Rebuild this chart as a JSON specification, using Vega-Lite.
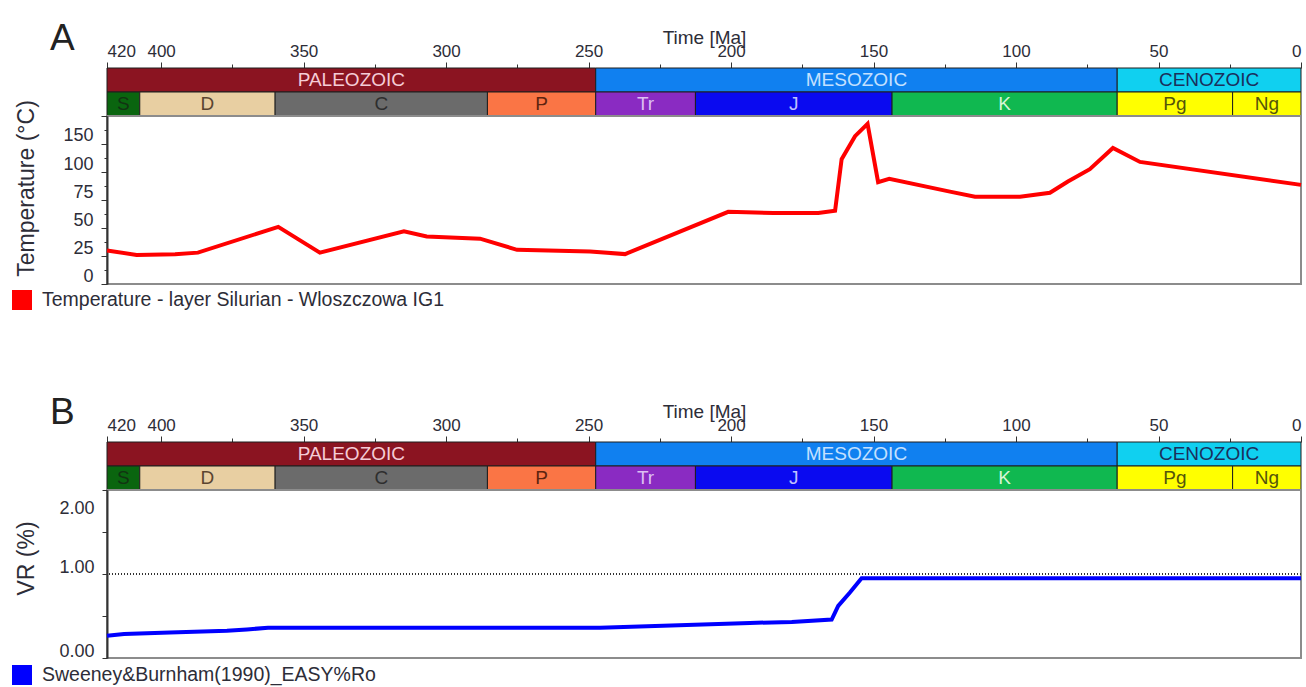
{
  "$schema": "https://vega.github.io/schema/vega-lite/v6.json",
  "background": "white",
  "padding": {"left": 11, "top": 20, "right": 5, "bottom": 0},
  "spacing": 374,
  "bounds": "flush",
  "resolve": {"scale": {"fill": "independent", "color": "independent", "x": "independent", "y": "independent"}, "legend": {"color": "independent"}},
  "config": {
    "font": "Liberation Sans",
    "view": {"stroke": null},
    "axis": {
      "labelFont": "Liberation Sans",
      "titleFont": "Liberation Sans",
      "labelColor": "#2d2d38",
      "titleColor": "#2d2d38",
      "tickColor": "#333333",
      "domainColor": "#444444",
      "grid": false,
      "titleFontWeight": "normal"
    },
    "legend": {
      "labelFont": "Liberation Sans",
      "labelColor": "#2d2d38"
    },
    "title": {"font": "Liberation Sans", "fontWeight": "normal", "color": "#222222"}
  },
  "datasets": {
    "eras": [
      {"name": "PALEOZOIC", "start": 419, "end": 247.5},
      {"name": "MESOZOIC", "start": 247.5, "end": 64.5},
      {"name": "CENOZOIC", "start": 64.5, "end": 0}
    ],
    "periods": [
      {"name": "S", "start": 419, "end": 407.5},
      {"name": "D", "start": 407.5, "end": 360},
      {"name": "C", "start": 360, "end": 285.5},
      {"name": "P", "start": 285.5, "end": 247.5},
      {"name": "Tr", "start": 247.5, "end": 212.5},
      {"name": "J", "start": 212.5, "end": 143.5},
      {"name": "K", "start": 143.5, "end": 64.5},
      {"name": "Pg", "start": 64.5, "end": 24},
      {"name": "Ng", "start": 24, "end": 0}
    ],
    "temperature": [
      {"series": "Temperature - layer Silurian - Wloszczowa IG1", "age": 419, "temp": 30},
      {"series": "Temperature - layer Silurian - Wloszczowa IG1", "age": 408.6, "temp": 26},
      {"series": "Temperature - layer Silurian - Wloszczowa IG1", "age": 395.1, "temp": 26.5},
      {"series": "Temperature - layer Silurian - Wloszczowa IG1", "age": 387.1, "temp": 28},
      {"series": "Temperature - layer Silurian - Wloszczowa IG1", "age": 358.9, "temp": 51},
      {"series": "Temperature - layer Silurian - Wloszczowa IG1", "age": 344.3, "temp": 28},
      {"series": "Temperature - layer Silurian - Wloszczowa IG1", "age": 314.8, "temp": 47},
      {"series": "Temperature - layer Silurian - Wloszczowa IG1", "age": 306.8, "temp": 42.5},
      {"series": "Temperature - layer Silurian - Wloszczowa IG1", "age": 288.1, "temp": 40.5},
      {"series": "Temperature - layer Silurian - Wloszczowa IG1", "age": 275.1, "temp": 30.5},
      {"series": "Temperature - layer Silurian - Wloszczowa IG1", "age": 249.5, "temp": 29},
      {"series": "Temperature - layer Silurian - Wloszczowa IG1", "age": 237.2, "temp": 26.7},
      {"series": "Temperature - layer Silurian - Wloszczowa IG1", "age": 201, "temp": 64.4},
      {"series": "Temperature - layer Silurian - Wloszczowa IG1", "age": 185.2, "temp": 63.5},
      {"series": "Temperature - layer Silurian - Wloszczowa IG1", "age": 169.4, "temp": 63.5},
      {"series": "Temperature - layer Silurian - Wloszczowa IG1", "age": 163.5, "temp": 65.5},
      {"series": "Temperature - layer Silurian - Wloszczowa IG1", "age": 161.2, "temp": 111.5},
      {"series": "Temperature - layer Silurian - Wloszczowa IG1", "age": 156.5, "temp": 132},
      {"series": "Temperature - layer Silurian - Wloszczowa IG1", "age": 152.1, "temp": 143},
      {"series": "Temperature - layer Silurian - Wloszczowa IG1", "age": 148.4, "temp": 91},
      {"series": "Temperature - layer Silurian - Wloszczowa IG1", "age": 144.5, "temp": 94},
      {"series": "Temperature - layer Silurian - Wloszczowa IG1", "age": 123.2, "temp": 82.5},
      {"series": "Temperature - layer Silurian - Wloszczowa IG1", "age": 114.4, "temp": 78},
      {"series": "Temperature - layer Silurian - Wloszczowa IG1", "age": 98.6, "temp": 78},
      {"series": "Temperature - layer Silurian - Wloszczowa IG1", "age": 88.1, "temp": 81.5},
      {"series": "Temperature - layer Silurian - Wloszczowa IG1", "age": 81.8, "temp": 91.5},
      {"series": "Temperature - layer Silurian - Wloszczowa IG1", "age": 74.1, "temp": 102.5},
      {"series": "Temperature - layer Silurian - Wloszczowa IG1", "age": 66, "temp": 121.5},
      {"series": "Temperature - layer Silurian - Wloszczowa IG1", "age": 56.5, "temp": 109},
      {"series": "Temperature - layer Silurian - Wloszczowa IG1", "age": 0, "temp": 88.5}
    ],
    "vr": [
      {"series": "Sweeney&Burnham(1990)_EASY%Ro", "age": 419, "ro": 0.265},
      {"series": "Sweeney&Burnham(1990)_EASY%Ro", "age": 413, "ro": 0.285},
      {"series": "Sweeney&Burnham(1990)_EASY%Ro", "age": 396.9, "ro": 0.305},
      {"series": "Sweeney&Burnham(1990)_EASY%Ro", "age": 376.9, "ro": 0.325},
      {"series": "Sweeney&Burnham(1990)_EASY%Ro", "age": 369.9, "ro": 0.34},
      {"series": "Sweeney&Burnham(1990)_EASY%Ro", "age": 362.5, "ro": 0.36},
      {"series": "Sweeney&Burnham(1990)_EASY%Ro", "age": 246, "ro": 0.36},
      {"series": "Sweeney&Burnham(1990)_EASY%Ro", "age": 193.4, "ro": 0.417},
      {"series": "Sweeney&Burnham(1990)_EASY%Ro", "age": 178.7, "ro": 0.43},
      {"series": "Sweeney&Burnham(1990)_EASY%Ro", "age": 164.7, "ro": 0.457},
      {"series": "Sweeney&Burnham(1990)_EASY%Ro", "age": 162.4, "ro": 0.62},
      {"series": "Sweeney&Burnham(1990)_EASY%Ro", "age": 158.3, "ro": 0.78},
      {"series": "Sweeney&Burnham(1990)_EASY%Ro", "age": 154.2, "ro": 0.95},
      {"series": "Sweeney&Burnham(1990)_EASY%Ro", "age": 0, "ro": 0.95}
    ]
  },
  "vconcat": [
    {
      "spacing": 0,
      "bounds": "flush",
      "resolve": {"scale": {"fill": "independent", "color": "independent", "x": "independent", "y": "independent"}, "legend": {"color": "independent"}},
      "vconcat": [
        {
          "title": {"text": "A", "anchor": "start", "frame": "group", "fontSize": 37, "dx": -57, "dy": 34},
          "width": 1194,
          "height": 24,
          "data": {"name": "eras"},
          "transform": [{"calculate": "(datum.start + datum.end) / 2", "as": "mid"}],
          "resolve": {"scale": {"fill": "independent", "color": "independent"}},
          "layer": [
            {
              "mark": {"type": "rect", "stroke": "#1e1e1e", "strokeWidth": 1},
              "encoding": {
                "x": {
                  "field": "start", "type": "quantitative", "title": "Time [Ma]",
                  "scale": {"domain": [419, 0], "nice": false, "zero": false},
                  "axis": {
                    "orient": "top", "title": "Time [Ma]", "titleFontSize": 19, "titleY": -25, "titleBaseline": "alphabetic",
                    "values": [419, 400, 375, 350, 325, 300, 275, 250, 225, 200, 175, 150, 125, 100, 75, 50, 25, 0],
                    "format": ".2r",
                    "labelExpr": "datum.value % 50 == 0 || datum.value == 419 ? datum.label : ''",
                    "labelFlush": true, "labelOverlap": false, "labelFontSize": 17, "labelPadding": 2,
                    "tickSize": {"condition": {"test": "datum.value % 50 == 0 || datum.value == 419", "value": 6}, "value": 4},
                    "domain": false
                  }
                },
                "x2": {"field": "end"},
                "fill": {
                  "field": "name", "type": "nominal", "legend": null,
                  "scale": {"domain": ["PALEOZOIC", "MESOZOIC", "CENOZOIC"], "range": ["#8b1421", "#1080f0", "#10d0f0"]}
                }
              }
            },
            {
              "mark": {"type": "text", "fontSize": 19, "baseline": "middle"},
              "encoding": {
                "x": {
                  "field": "mid", "type": "quantitative", "title": "Time [Ma]",
                  "axis": {
                    "orient": "top", "title": "Time [Ma]", "titleFontSize": 19, "titleY": -25, "titleBaseline": "alphabetic",
                    "values": [419, 400, 375, 350, 325, 300, 275, 250, 225, 200, 175, 150, 125, 100, 75, 50, 25, 0],
                    "format": ".2r",
                    "labelExpr": "datum.value % 50 == 0 || datum.value == 419 ? datum.label : ''",
                    "labelFlush": true, "labelOverlap": false, "labelFontSize": 17, "labelPadding": 2,
                    "tickSize": {"condition": {"test": "datum.value % 50 == 0 || datum.value == 419", "value": 6}, "value": 4},
                    "domain": false
                  }
                },
                "text": {"field": "name"},
                "color": {
                  "field": "name", "type": "nominal", "legend": null,
                  "scale": {"domain": ["PALEOZOIC", "MESOZOIC", "CENOZOIC"], "range": ["#f5ccd6", "#c4e0ff", "#1b2f5c"]}
                }
              }
            }
          ]
        },
        {
          "width": 1194,
          "height": 24,
          "data": {"name": "periods"},
          "transform": [{"calculate": "(datum.start + datum.end) / 2", "as": "mid"}],
          "resolve": {"scale": {"fill": "independent", "color": "independent"}},
          "layer": [
            {
              "mark": {"type": "rect", "stroke": "#1e1e1e", "strokeWidth": 1},
              "encoding": {
                "x": {"field": "start", "type": "quantitative", "scale": {"domain": [419, 0], "nice": false, "zero": false}, "axis": null},
                "x2": {"field": "end"},
                "fill": {
                  "field": "name", "type": "nominal", "legend": null,
                  "scale": {
                    "domain": ["S", "D", "C", "P", "Tr", "J", "K", "Pg", "Ng"],
                    "range": ["#0a650f", "#e8cfa2", "#6b6b6b", "#fa7545", "#8a2bc2", "#0a0af0", "#10b850", "#ffff00", "#ffff00"]
                  }
                }
              }
            },
            {
              "mark": {"type": "text", "fontSize": 19, "baseline": "middle"},
              "encoding": {
                "x": {"field": "mid", "type": "quantitative", "axis": null},
                "text": {"field": "name"},
                "color": {
                  "field": "name", "type": "nominal", "legend": null,
                  "scale": {
                    "domain": ["S", "D", "C", "P", "Tr", "J", "K", "Pg", "Ng"],
                    "range": ["#123312", "#5a4530", "#2e2e2e", "#5e2410", "#dcc0f2", "#c0c0ff", "#d6f5d6", "#55550a", "#55550a"]
                  }
                }
              }
            }
          ]
        },
        {
          "width": 1194,
          "height": 168,
          "view": {"stroke": "#8c8c8c", "strokeWidth": 2},
          "data": {"name": "temperature"},
          "mark": {"type": "line", "strokeWidth": 4},
          "encoding": {
            "x": {"field": "age", "type": "quantitative", "scale": {"domain": [419, 0], "nice": false, "zero": false}, "axis": null},
            "y": {
              "field": "temp", "type": "quantitative",
              "scale": {"domain": [0, 150], "nice": false},
              "axis": {
                "title": "Temperature (°C)", "titleFontSize": 23, "titleX": -69, "titleY": 72, "titleBaseline": "bottom",
                "values": [0, 12.5, 25, 37.5, 50, 62.5, 75, 87.5, 100, 112.5, 125, 137.5, 150],
                "labelExpr": "datum.value % 25 == 0 && datum.value != 125 ? datum.label : ''",
                "labelOverlap": false, "labelFontSize": 18, "labelPadding": 8,
                "labelOffset": {"condition": {"test": "datum.value == 150", "value": 19}, "value": -8},
                "tickSize": {"condition": {"test": "datum.value % 25 == 0", "value": 6}, "value": 3},
                "domainColor": "#333333", "domainWidth": 2
              }
            },
            "color": {
              "field": "series", "type": "nominal",
              "scale": {"domain": ["Temperature - layer Silurian - Wloszczowa IG1"], "range": ["#ff0000"]},
              "legend": {
                "title": null, "orient": "none", "legendX": -95, "legendY": 174,
                "symbolType": "square", "symbolSize": 400, "symbolStrokeWidth": 0, "symbolFillColor": "#ff0000",
                "labelFontSize": 19.5, "labelLimit": 700, "labelOffset": 10
              }
            }
          }
        }
      ]
    },
    {
      "spacing": 0,
      "bounds": "flush",
      "resolve": {"scale": {"fill": "independent", "color": "independent", "x": "independent", "y": "independent"}, "legend": {"color": "independent"}},
      "vconcat": [
        {
          "title": {"text": "B", "anchor": "start", "frame": "group", "fontSize": 37, "dx": -57, "dy": 34},
          "width": 1194,
          "height": 24,
          "data": {"name": "eras"},
          "transform": [{"calculate": "(datum.start + datum.end) / 2", "as": "mid"}],
          "resolve": {"scale": {"fill": "independent", "color": "independent"}},
          "layer": [
            {
              "mark": {"type": "rect", "stroke": "#1e1e1e", "strokeWidth": 1},
              "encoding": {
                "x": {
                  "field": "start", "type": "quantitative", "title": "Time [Ma]",
                  "scale": {"domain": [419, 0], "nice": false, "zero": false},
                  "axis": {
                    "orient": "top", "title": "Time [Ma]", "titleFontSize": 19, "titleY": -25, "titleBaseline": "alphabetic",
                    "values": [419, 400, 375, 350, 325, 300, 275, 250, 225, 200, 175, 150, 125, 100, 75, 50, 25, 0],
                    "format": ".2r",
                    "labelExpr": "datum.value % 50 == 0 || datum.value == 419 ? datum.label : ''",
                    "labelFlush": true, "labelOverlap": false, "labelFontSize": 17, "labelPadding": 2,
                    "tickSize": {"condition": {"test": "datum.value % 50 == 0 || datum.value == 419", "value": 6}, "value": 4},
                    "domain": false
                  }
                },
                "x2": {"field": "end"},
                "fill": {
                  "field": "name", "type": "nominal", "legend": null,
                  "scale": {"domain": ["PALEOZOIC", "MESOZOIC", "CENOZOIC"], "range": ["#8b1421", "#1080f0", "#10d0f0"]}
                }
              }
            },
            {
              "mark": {"type": "text", "fontSize": 19, "baseline": "middle"},
              "encoding": {
                "x": {
                  "field": "mid", "type": "quantitative", "title": "Time [Ma]",
                  "axis": {
                    "orient": "top", "title": "Time [Ma]", "titleFontSize": 19, "titleY": -25, "titleBaseline": "alphabetic",
                    "values": [419, 400, 375, 350, 325, 300, 275, 250, 225, 200, 175, 150, 125, 100, 75, 50, 25, 0],
                    "format": ".2r",
                    "labelExpr": "datum.value % 50 == 0 || datum.value == 419 ? datum.label : ''",
                    "labelFlush": true, "labelOverlap": false, "labelFontSize": 17, "labelPadding": 2,
                    "tickSize": {"condition": {"test": "datum.value % 50 == 0 || datum.value == 419", "value": 6}, "value": 4},
                    "domain": false
                  }
                },
                "text": {"field": "name"},
                "color": {
                  "field": "name", "type": "nominal", "legend": null,
                  "scale": {"domain": ["PALEOZOIC", "MESOZOIC", "CENOZOIC"], "range": ["#f5ccd6", "#c4e0ff", "#1b2f5c"]}
                }
              }
            }
          ]
        },
        {
          "width": 1194,
          "height": 24,
          "data": {"name": "periods"},
          "transform": [{"calculate": "(datum.start + datum.end) / 2", "as": "mid"}],
          "resolve": {"scale": {"fill": "independent", "color": "independent"}},
          "layer": [
            {
              "mark": {"type": "rect", "stroke": "#1e1e1e", "strokeWidth": 1},
              "encoding": {
                "x": {"field": "start", "type": "quantitative", "scale": {"domain": [419, 0], "nice": false, "zero": false}, "axis": null},
                "x2": {"field": "end"},
                "fill": {
                  "field": "name", "type": "nominal", "legend": null,
                  "scale": {
                    "domain": ["S", "D", "C", "P", "Tr", "J", "K", "Pg", "Ng"],
                    "range": ["#0a650f", "#e8cfa2", "#6b6b6b", "#fa7545", "#8a2bc2", "#0a0af0", "#10b850", "#ffff00", "#ffff00"]
                  }
                }
              }
            },
            {
              "mark": {"type": "text", "fontSize": 19, "baseline": "middle"},
              "encoding": {
                "x": {"field": "mid", "type": "quantitative", "axis": null},
                "text": {"field": "name"},
                "color": {
                  "field": "name", "type": "nominal", "legend": null,
                  "scale": {
                    "domain": ["S", "D", "C", "P", "Tr", "J", "K", "Pg", "Ng"],
                    "range": ["#123312", "#5a4530", "#2e2e2e", "#5e2410", "#dcc0f2", "#c0c0ff", "#d6f5d6", "#55550a", "#55550a"]
                  }
                }
              }
            }
          ]
        },
        {
          "width": 1194,
          "height": 168,
          "view": {"stroke": "#8c8c8c", "strokeWidth": 2},
          "layer": [
            {
              "data": {"name": "vr"},
              "mark": {"type": "rule", "color": "#333333", "strokeWidth": 1, "strokeDash": [1, 2]},
              "encoding": {"y": {"datum": 1, "type": "quantitative"}}
            },
            {
              "data": {"name": "vr"},
              "mark": {"type": "line", "strokeWidth": 4},
              "encoding": {
                "x": {"field": "age", "type": "quantitative", "scale": {"domain": [419, 0], "nice": false, "zero": false}, "axis": null},
                "y": {
                  "field": "ro", "type": "quantitative",
                  "scale": {"domain": [0, 2], "nice": false},
                  "axis": {
                    "title": "VR (%)", "titleFontSize": 23, "titleX": -69, "titleY": 68, "titleBaseline": "bottom",
                    "values": [0, 0.5, 1, 1.5, 2], "format": ".2f",
                    "labelExpr": "datum.value % 1 == 0 ? datum.label : ''",
                    "labelOverlap": false, "labelFontSize": 18, "labelPadding": 8,
                    "labelOffset": {"condition": {"test": "datum.value == 2", "value": 18}, "value": -7},
                    "tickSize": 5,
                    "domainColor": "#333333", "domainWidth": 2
                  }
                },
                "color": {
                  "field": "series", "type": "nominal",
                  "scale": {"domain": ["Sweeney&Burnham(1990)_EASY%Ro"], "range": ["#0000ff"]},
                  "legend": {
                    "title": null, "orient": "none", "legendX": -95, "legendY": 175,
                    "symbolType": "square", "symbolSize": 400, "symbolStrokeWidth": 0, "symbolFillColor": "#0000ff",
                    "labelFontSize": 19.5, "labelLimit": 700, "labelOffset": 10
                  }
                }
              }
            }
          ]
        }
      ]
    }
  ]
}
